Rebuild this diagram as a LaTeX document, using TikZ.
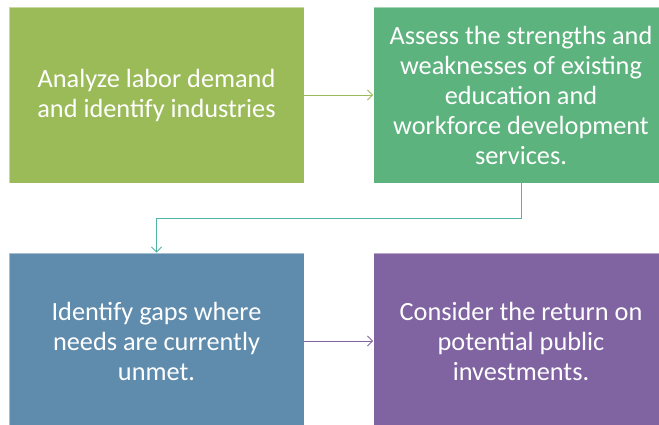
\documentclass[tikz,border=0pt]{standalone}
\usepackage{fontspec}
\setmainfont{Carlito}
\usetikzlibrary{arrows.meta}

\definecolor{olivebox}{HTML}{9BBB59}
\definecolor{greenbox}{HTML}{5DB37E}
\definecolor{bluebox}{HTML}{5F8CAD}
\definecolor{purplebox}{HTML}{8064A2}
\definecolor{tealline}{HTML}{4FB4A3}

\tikzset{
  stagebox/.style={rectangle, fill=#1, draw=white, draw opacity=0.45, line width=0.8pt,
    minimum width=295pt, minimum height=176pt, inner sep=0pt, align=center,
    text=white, font=\fontsize{26.3}{30}\selectfont},
  flowline/.style={draw=#1, line width=0.9pt, -{Straight Barb[length=5pt,width=10pt]}}
}

\begin{document}
\begin{tikzpicture}[x=1pt,y=-1pt]
\useasboundingbox (0,0) rectangle (659,425);

% the four steps
\node[stagebox=olivebox] (analyze) at (156.5,95) {Analyze labor demand\\and identify industries};
\node[stagebox=greenbox] (assess) at (521,95) {Assess the strengths and\\weaknesses of existing\\education and\\workforce development\\services.};
\node[stagebox=bluebox] (gaps) at (156.5,341) {Identify gaps where\\needs are currently\\unmet.};
\node[stagebox=purplebox] (return) at (521,341) {Consider the return on\\potential public\\investments.};

% arrows between them
\draw[flowline=olivebox] (analyze.east) -- (assess.west);
\draw[flowline=tealline] (assess.south) -- ++(0,35) -| (gaps.north);
\draw[flowline=purplebox] (gaps.east) -- (return.west);
\end{tikzpicture}
\end{document}
